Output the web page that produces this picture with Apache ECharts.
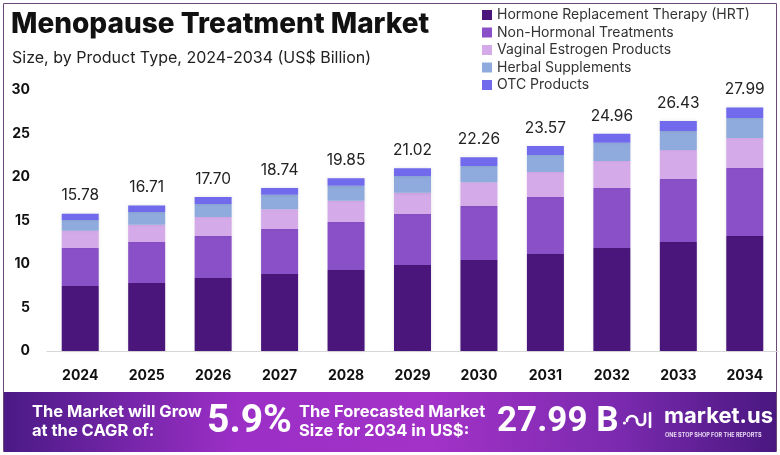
<!DOCTYPE html>
<html>
<head>
<meta charset="utf-8">
<script src="https://cdn.jsdelivr.net/npm/echarts@6/dist/echarts.min.js"></script>
<style>
  html, body { margin: 0; padding: 0; background: #fff; }
  #chart { width: 780px; height: 455px; }
</style>
</head>
<body>
<div id="chart"></div>
<script>
var years = ['2024', '2025', '2026', '2027', '2028', '2029', '2030', '2031', '2032', '2033', '2034'];
var hrt = [7.47, 7.82, 8.39, 8.85, 9.31, 9.89, 10.46, 11.15, 11.84, 12.53, 13.22];
var nonHormonal = [4.37, 4.71, 4.83, 5.17, 5.52, 5.86, 6.21, 6.55, 6.90, 7.24, 7.81];
var vaginal = [1.99, 1.99, 2.18, 2.27, 2.45, 2.45, 2.72, 2.87, 3.10, 3.33, 3.45];
var herbal = [1.23, 1.46, 1.50, 1.68, 1.72, 1.91, 1.87, 1.96, 2.11, 2.19, 2.30];
var otc = [0.72, 0.73, 0.80, 0.77, 0.85, 0.91, 1.00, 1.04, 1.01, 1.14, 1.21];
var totals = ['15.78', '16.71', '17.70', '18.74', '19.85', '21.02', '22.26', '23.57', '24.96', '26.43', '27.99'];
var yTicks = [0, 5, 10, 15, 20, 25, 30];

var names = ['Hormone Replacement Therapy (HRT)', 'Non-Hormonal Treatments', 'Vaginal Estrogen Products', 'Herbal Supplements', 'OTC Products'];
var colors = ['#4b167b', '#8a50c8', '#d4aae9', '#8faadc', '#716aec'];
var seriesData = [hrt, nonHormonal, vaginal, herbal, otc];

var myChart = echarts.init(document.getElementById('chart'));

var series = seriesData.map(function (d, i) {
    var s = {
        name: names[i],
        type: 'bar',
        stack: 'total',
        barWidth: 37,
        data: d,
        itemStyle: { color: colors[i], shadowColor: 'rgba(0,0,0,0.12)', shadowBlur: 3 },
        emphasis: { disabled: true }
    };
    if (i === seriesData.length - 1) {
        s.label = {
            show: true,
            position: 'top',
            distance: 10,
            color: '#222',
            fontSize: 15.5,
            fontFamily: 'Inter',
            formatter: function (p) { return totals[p.dataIndex]; }
        };
    }
    return s;
});

var white = { stroke: '#fff', lineWidth: 2.6, fill: 'none', lineCap: 'round' };

var option = {
    animation: false,
    color: colors,
    legend: {
        orient: 'vertical',
        left: 477,
        top: 2,
        itemWidth: 10,
        itemHeight: 10,
        itemGap: 1.5,
        icon: 'rect',
        textStyle: { color: '#333', fontSize: 14, lineHeight: 16, fontFamily: 'Inter' },
        data: names
    },
    grid: { left: 47, right: 2, top: 90, bottom: 104 },
    xAxis: {
        type: 'category',
        data: years,
        axisLine: { lineStyle: { color: '#d8d8d8' } },
        axisTick: { show: false },
        axisLabel: { color: '#111', fontSize: 14, fontWeight: 'bold', fontFamily: 'Inter', margin: 18 }
    },
    yAxis: {
        type: 'value',
        min: yTicks[0],
        max: yTicks[yTicks.length - 1],
        interval: 5,
        splitLine: { show: false },
        axisLine: { show: false },
        axisTick: { show: false },
        axisLabel: { color: '#111', fontSize: 14, fontWeight: 'bold', fontFamily: 'Inter', margin: 17 }
    },
    graphic: [
        // 外框
        { type: 'rect', shape: { x: 3.5, y: 3.5, width: 773, height: 448 }, style: { fill: 'none', stroke: '#6b4a7a', lineWidth: 1 }, z: -1 },
        { type: 'text', left: 11, top: 11, style: { text: 'Menopause Treatment Market', fill: '#111', font: '800 28px Inter' } },
        { type: 'text', left: 12, top: 50, style: { text: 'Size, by Product Type, 2024-2034 (US$ Billion)', fill: '#222', font: '16px Inter' } },
        // 底部横幅
        {
            type: 'rect', shape: { x: 4, y: 392, width: 772, height: 60 },
            style: {
                fill: new echarts.graphic.LinearGradient(0, 0, 1, 0, [
                    { offset: 0, color: '#4a1a86' },
                    { offset: 0.3, color: '#9b2fc6' },
                    { offset: 0.55, color: '#a332c8' },
                    { offset: 0.8, color: '#7a2aae' },
                    { offset: 1, color: '#4a1780' }
                ])
            }
        },
        { type: 'text', left: 32, top: 403, style: { text: 'The Market will Grow\nat the CAGR of:', fill: '#fff', font: 'bold 16.5px Inter', lineHeight: 19 } },
        { type: 'text', left: 207, top: 403, style: { text: '5.9%', fill: '#fff', font: 'bold 39px Roboto' } },
        { type: 'text', left: 299, top: 403, style: { text: 'The Forecasted Market\nSize for 2034 in US$:', fill: '#fff', font: 'bold 16.5px Inter', lineHeight: 19 } },
        { type: 'text', left: 497, top: 405, style: { text: '27.99 B', fill: '#fff', font: 'bold 35px Roboto' } },
        // logo
        { type: 'circle', shape: { cx: 624.5, cy: 423, r: 1.6 }, style: { fill: '#fff' } },
        { type: 'arc', shape: { cx: 632, cy: 421, r: 5, startAngle: Math.PI, endAngle: 2 * Math.PI }, style: white },
        { type: 'arc', shape: { cx: 641, cy: 421, r: 4, startAngle: 0, endAngle: Math.PI }, style: white },
        { type: 'line', shape: { x1: 645, y1: 414, x2: 645, y2: 421 }, style: white },
        { type: 'line', shape: { x1: 650, y1: 413, x2: 650, y2: 427 }, style: white },
        { type: 'text', left: 664, top: 405, style: { text: 'market.us', fill: '#fff', font: 'bold 22px Inter' } },
        { type: 'text', left: 665, top: 432, style: { text: 'ONE STOP SHOP FOR THE REPORTS', fill: '#e8d8f4', font: 'bold 5.5px Inter' } }
    ],
    series: series
};

myChart.setOption(option);
</script>
</body>
</html>
